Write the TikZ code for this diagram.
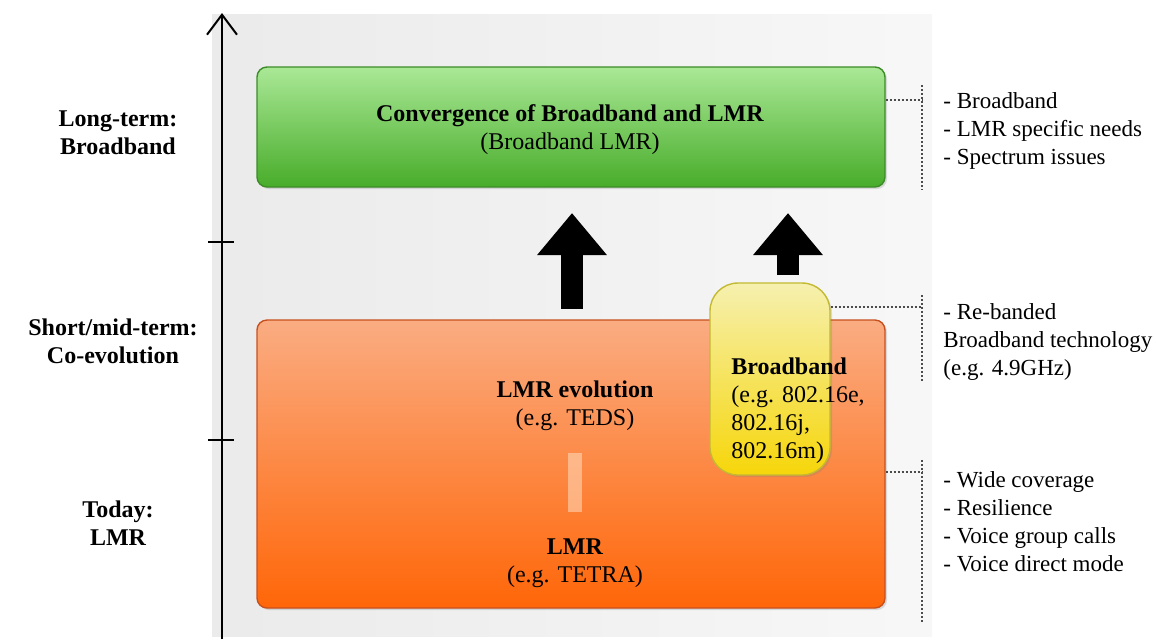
\documentclass[tikz,border=0pt]{standalone}
\usepackage{fontspec}
\setmainfont{Liberation Serif}
\usetikzlibrary{positioning,arrows.meta,shadows}
\definecolor{grnTop}{RGB}{170,232,150}
\definecolor{grnBot}{RGB}{72,172,42}
\definecolor{grnLine}{RGB}{60,140,40}
\definecolor{orgTop}{RGB}{250,172,130}
\definecolor{orgBot}{RGB}{255,102,8}
\definecolor{orgLine}{RGB}{200,80,30}
\definecolor{ylwTop}{RGB}{246,240,175}
\definecolor{ylwBot}{RGB}{246,214,10}
\definecolor{ylwLine}{RGB}{195,185,50}
\tikzset{
  box/.style={draw, line width=0.7pt, rounded corners=5pt, inner sep=0pt,
    drop shadow={opacity=0.25, shadow xshift=1pt, shadow yshift=-1pt}},
  lbl/.style={font=\fontsize{12}{14}\selectfont, align=center, inner sep=0pt},
  note/.style={font=\fontsize{11.5}{14}\selectfont, align=left, anchor=north west, inner sep=0pt},
  brk/.style={densely dotted, line width=1pt, black!70},
  uparrow/.style={line width=11pt, -{Triangle[width=33.5pt,length=21pt]}},
}
\begin{document}
\begin{tikzpicture}[x=0.5pt,y=-0.5pt]
\useasboundingbox (0,0) rectangle (1156,639);
\fill[left color=black!8, right color=black!3] (212,14) rectangle (932,636);
% time axis
\coordinate (axbot) at (222,639);
\coordinate (axtop) at (222,13);
\draw[line width=1pt, -{Straight Barb[length=10pt,width=15pt,line width=1pt]}] (axbot) -- (axtop);
\foreach \y in {242,440} \draw[line width=1pt] (208,\y) -- (234,\y);
\node[lbl, font=\fontsize{12}{14}\selectfont\bfseries] (longterm) at (118,133) {Long-term:\\Broadband};
\node[lbl, font=\fontsize{12}{14}\selectfont\bfseries] (midterm) at (113,341) {Short/mid-term:\\Co-evolution};
\node[lbl, font=\fontsize{12}{14}\selectfont\bfseries] (today) at (118,523) {Today:\\LMR};
% boxes
\node[box, draw=grnLine, top color=grnTop, bottom color=grnBot, minimum width=314pt, minimum height=60pt] (green) at (571,127) {};
\node[box, draw=orgLine, top color=orgTop, bottom color=orgBot, minimum width=314pt, minimum height=144pt] (orange) at (571,464) {};
\node[lbl] (conv) at (570,130) {\textbf{Convergence of Broadband and LMR}\\(Broadband LMR)};
\node[lbl] (lmrevo) at (575,406) {\textbf{LMR evolution}\\(e.g. TEDS)};
\node[lbl] (lmr) at (575,563) {\textbf{LMR}\\(e.g. TETRA)};
\draw[line width=7pt, orange!20!white, opacity=0.5] (lmr.north |- 0,453) -- (lmr.north |- 0,512);
\node[box, draw=ylwLine, top color=ylwTop, bottom color=ylwBot, rounded corners=14pt, minimum width=60pt, minimum height=96pt] (yellow) at (770,379) {};
\node[note, font=\fontsize{12}{14}\selectfont] (bbtext) at (731,357) {\textbf{Broadband}\\(e.g. 802.16e,\\802.16j,\\802.16m)};
% block arrows
\coordinate (a1) at (572,309); \coordinate (b1) at (572,213);
\coordinate (a2) at (788,275); \coordinate (b2) at (788,213);
\draw[uparrow] (a1) -- (b1);
\draw[uparrow] (a2) -- (b2);
% brackets and notes
\draw[brk] (green.east |- 0,100) -- (922,100); \draw[brk] (922,85) -- (922,190);
\draw[brk] (yellow.east |- 0,307) -- (922,307); \draw[brk] (922,295) -- (922,382);
\draw[brk] (orange.east |- 0,472) -- (922,472); \draw[brk] (922,460) -- (922,622);
\node[note] (gnote) at (943,92) {- Broadband\\- LMR specific needs\\- Spectrum issues};
\node[note] (ynote) at (943,303) {- Re-banded\\Broadband technology\\(e.g. 4.9GHz)};
\node[note] (onote) at (943,471) {- Wide coverage\\- Resilience\\- Voice group calls\\- Voice direct mode};
\end{tikzpicture}
\end{document}
